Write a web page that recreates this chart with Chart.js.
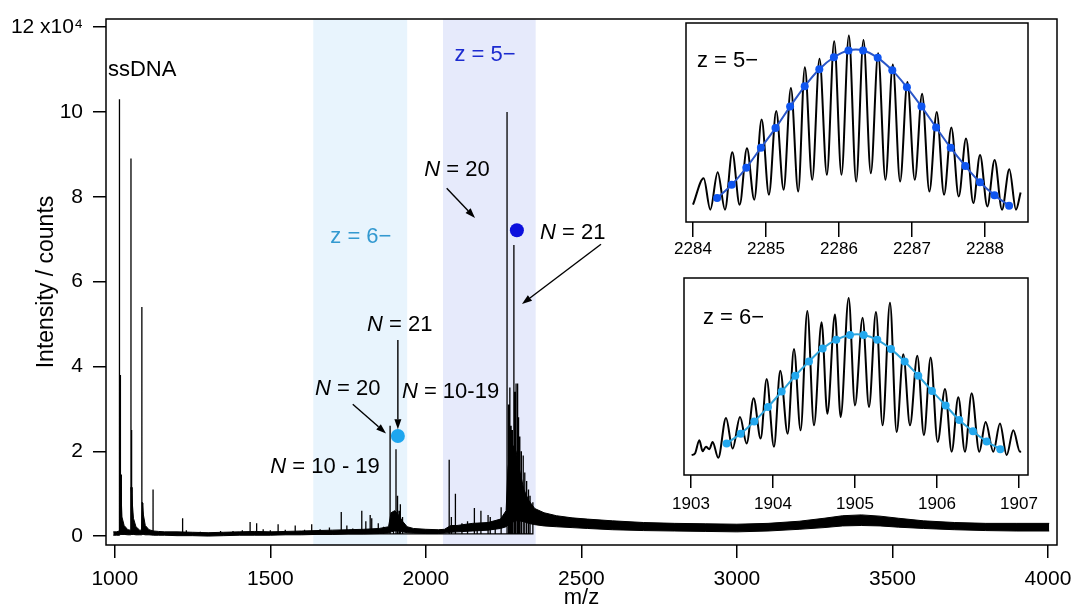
<!DOCTYPE html>
<html>
<head>
<meta charset="utf-8">
<script src="https://cdn.jsdelivr.net/npm/chart.js@4/dist/chart.umd.min.js"></script>
<style>
  body { margin: 0; background: #fff; }
  #wrap { position: relative; width: 1076px; height: 612px; }
  canvas { display: block; }
  #ins1 { position: absolute; left: 640px; top: 19px; }
  #ins2 { position: absolute; left: 640px; top: 272px; }
</style>
</head>
<body>
<div id="wrap">
  <canvas id="main" width="1076" height="612"></canvas>
  <canvas id="ins1" width="410" height="255"></canvas>
  <canvas id="ins2" width="410" height="255"></canvas>
</div>
<script>
// main spectrum: noisy baseline envelope (upper / lower edge of the black band)
const bandMz = [995, 1005, 1014, 1016, 1019, 1023, 1030, 1042, 1050, 1052,
  1055, 1060, 1068, 1080, 1086, 1088, 1092, 1098, 1110, 1125,
  1140, 1160, 1200, 1250, 1300, 1350, 1400, 1450, 1500, 1550,
  1600, 1650, 1700, 1750, 1800, 1850, 1880, 1888, 1900, 1912,
  1925, 1940, 1960, 2000, 2040, 2060, 2080, 2100, 2150, 2200,
  2240, 2258, 2264, 2275, 2290, 2300, 2315, 2330, 2350, 2380,
  2420, 2470, 2520, 2600, 2700, 2800, 2900, 3000, 3100, 3200,
  3280, 3340, 3400, 3460, 3520, 3600, 3700, 3800, 3900, 4004];
const bandHi = [0.1, 0.1, 0.12, 1.4, 1.2, 0.45, 0.25, 0.15, 0.14, 1.15,
  0.9, 0.42, 0.22, 0.14, 0.14, 0.8, 0.5, 0.25, 0.15, 0.12,
  0.11, 0.1, 0.1, 0.09, 0.08, 0.09, 0.1, 0.11, 0.1, 0.11,
  0.12, 0.13, 0.14, 0.15, 0.16, 0.18, 0.22, 0.55, 0.6, 0.5,
  0.35, 0.22, 0.18, 0.16, 0.15, 0.16, 0.25, 0.25, 0.3, 0.32,
  0.4, 0.6, 1.6, 2.2, 2.0, 1.6, 1.1, 0.85, 0.65, 0.55,
  0.48, 0.43, 0.4, 0.36, 0.32, 0.3, 0.29, 0.28, 0.3, 0.35,
  0.42, 0.48, 0.5, 0.47, 0.42, 0.36, 0.32, 0.3, 0.3, 0.3];
const bandLo = [0.02, 0.02, 0.02, 0.03, 0.04, 0.04, 0.04, 0.03, 0.03, 0.04,
  0.04, 0.04, 0.03, 0.03, 0.03, 0.04, 0.04, 0.03, 0.03, 0.02,
  0.02, 0.02, 0.01, 0.01, 0.0, 0.01, 0.02, 0.02, 0.02, 0.03,
  0.03, 0.04, 0.04, 0.05, 0.05, 0.06, 0.07, 0.1, 0.12, 0.12,
  0.1, 0.08, 0.07, 0.06, 0.06, 0.07, 0.09, 0.1, 0.12, 0.14,
  0.18, 0.22, 0.26, 0.32, 0.36, 0.36, 0.34, 0.3, 0.27, 0.24,
  0.22, 0.2, 0.18, 0.15, 0.13, 0.12, 0.11, 0.1, 0.12, 0.16,
  0.2, 0.24, 0.25, 0.24, 0.21, 0.18, 0.15, 0.13, 0.12, 0.12];

// main spectrum: individual peaks (m/z, intensity in 10^4 counts)
const peakMz = [1015, 1018, 1021, 1052, 1054, 1056, 1087, 1090, 1123, 1218,
  1230, 1275, 1340, 1380, 1410, 1435, 1456, 1477, 1500, 1525,
  1548, 1580, 1610, 1633, 1660, 1690, 1728, 1746, 1765, 1794,
  1807, 1821, 1826, 1847, 1864, 1885, 1896, 1904, 1909, 1914,
  1918, 1925, 2075, 2082, 2095, 2116, 2134, 2156, 2165, 2177,
  2200, 2207, 2223, 2242, 2261, 2266, 2270, 2274, 2278, 2283,
  2287, 2290, 2295, 2298, 2302, 2307, 2313, 2318, 2324, 2330,
  2335, 2344];
const peakInt = [10.3, 3.8, 1.45, 8.9, 2.5, 1.15, 5.4, 0.78, 1.1, 0.42,
  0.14, 0.1, 0.12, 0.12, 0.14, 0.33, 0.3, 0.16, 0.14, 0.28,
  0.15, 0.25, 0.15, 0.28, 0.16, 0.2, 0.57, 0.25, 0.18, 0.6,
  0.35, 0.5, 0.42, 0.3, 0.22, 2.6, 0.5, 2.05, 0.95, 0.6,
  0.75, 0.45, 1.8, 0.45, 1.0, 0.3, 0.35, 0.66, 0.3, 0.6,
  0.5, 0.45, 0.35, 0.68, 10.0, 3.1, 3.5, 2.6, 2.5, 6.86,
  3.4, 3.6, 3.6, 2.8, 2.35, 2.0, 1.9, 1.5, 1.3, 1.1,
  0.95, 0.8];

const mainXTicks = [1000, 1500, 2000, 2500, 3000, 3500, 4000];
const mainYTicks = [0, 2, 4, 6, 8, 10, 12];

// marked N = 20 / 21 positions
const dotZ6 = { mz: 1910, y: 2.36 };
const dotZ5 = { mz: 2292.6, y: 7.21 };

// shaded charge-state windows (m/z)
const windowZ6 = [1638, 1940];
const windowZ5 = [2055, 2353];

// inset z = 5-
const ins1Mz = [2284.000, 2284.146, 2284.237, 2284.338, 2284.438, 2284.538, 2284.639, 2284.739, 2284.839, 2284.940,
  2285.040, 2285.140, 2285.241, 2285.341, 2285.441, 2285.532, 2285.633, 2285.733, 2285.834, 2285.934,
  2286.034, 2286.135, 2286.235, 2286.335, 2286.436, 2286.536, 2286.636, 2286.737, 2286.837, 2286.937,
  2287.038, 2287.138, 2287.238, 2287.339, 2287.439, 2287.539, 2287.640, 2287.740, 2287.840, 2287.932,
  2288.032, 2288.132, 2288.233, 2288.333, 2288.424, 2288.488];
const ins1Val = [8.7, 22, 6.2, 25, 6.2, 35, 8.7, 37, 11.2, 51.5,
  13.7, 55.8, 16.2, 67.3, 15.3, 77.8, 21.2, 82, 23.7, 90.8,
  23.7, 93.7, 20.3, 91.5, 24.5, 84.8, 21.2, 79.2, 20.3, 70.3,
  21.2, 64.5, 15.3, 55.3, 13.7, 47.5, 12.8, 42, 9.5, 33.7,
  7.8, 31.2, 6.2, 26.5, 6.2, 14.8];
const ins1FitMz = [2284.33, 2284.53, 2284.73, 2284.93, 2285.13, 2285.33, 2285.53, 2285.73, 2285.93, 2286.13,
  2286.33, 2286.53, 2286.73, 2286.93, 2287.13, 2287.33, 2287.53, 2287.73, 2287.93, 2288.13, 2288.33];
const ins1FitVal = [12, 18.7, 27.3, 37.3, 47.2, 58, 68.2, 76.8, 82.8, 86.2,
  86.2, 82.5, 76.2, 67.7, 58, 47.5, 37.3, 28.2, 20, 13.5, 8.2];
const ins1Ticks = [2284, 2285, 2286, 2287, 2288];

// inset z = 6-
const ins2Mz = [1903.008, 1903.049, 1903.102, 1903.142, 1903.183, 1903.224, 1903.264, 1903.333, 1903.427, 1903.508,
  1903.598, 1903.679, 1903.764, 1903.850, 1903.923, 1904.012, 1904.089, 1904.179, 1904.256, 1904.337,
  1904.419, 1904.500, 1904.593, 1904.663, 1904.756, 1904.825, 1904.923, 1905.000, 1905.093, 1905.171,
  1905.256, 1905.337, 1905.427, 1905.508, 1905.589, 1905.671, 1905.760, 1905.841, 1905.923, 1906.008,
  1906.098, 1906.179, 1906.260, 1906.341, 1906.423, 1906.516, 1906.593, 1906.687, 1906.768, 1906.850,
  1906.931, 1907.012, 1907.024];
const ins2Val = [10.1, 10.9, 17.6, 12.1, 14.3, 13.1, 16.8, 8.7, 28.9, 13.4,
  29.4, 16, 39, 18.5, 48.7, 14.3, 52.9, 21, 63.9, 22.7,
  83.2, 25.2, 77.6, 31.1, 81.5, 29.4, 89.9, 35.3, 79.8, 34.5,
  82.7, 25.2, 87.4, 21.8, 61.3, 25.2, 60.5, 20.2, 59.7, 16.8,
  43.7, 11.8, 39.5, 11.8, 41.5, 11.8, 26.9, 11.8, 26.1, 10.1,
  22.7, 11.8, 12.1];
const ins2FitMz = [1903.435, 1903.606, 1903.772, 1903.939, 1904.106, 1904.272, 1904.439, 1904.606, 1904.772, 1904.939,
  1905.106, 1905.272, 1905.439, 1905.606, 1905.772, 1905.939, 1906.106, 1906.272, 1906.439, 1906.606, 1906.772];
const ins2FitVal = [16, 21, 27.2, 34.5, 42.4, 50.4, 57.6, 64.2, 68.7, 71.1,
  71.1, 68.6, 63.9, 57.6, 50.4, 42.7, 35.3, 27.9, 22.2, 17, 13.1];
const ins2Ticks = [1903, 1904, 1905, 1906, 1907];

const FONT = '"Liberation Sans", Arial, Helvetica, sans-serif';
Chart.defaults.font.family = FONT;
Chart.defaults.color = '#000';

function pontos(xs, ys) {
    return xs.map(function (x, i) { return { x: x, y: ys[i] }; });
}

// every peak becomes a vertical stick standing on the band
let sticks = [];
for (let i = 0; i < peakMz.length; i++) {
    sticks.push({ x: peakMz[i], y: 0.05 });
    sticks.push({ x: peakMz[i], y: peakInt[i] });
    sticks.push({ x: peakMz[i], y: 0.05 });
}

const framePlugin = {
    id: 'frame',
    afterDatasetsDraw(chart) {
        const a = chart.chartArea, ctx = chart.ctx;
        ctx.save();
        ctx.strokeStyle = '#000';
        ctx.lineWidth = 1.5;
        ctx.strokeRect(a.left, a.top, a.right - a.left, a.bottom - a.top);
        ctx.restore();
    }
};

const shadePlugin = {
    id: 'shade',
    beforeDatasetsDraw(chart) {
        const a = chart.chartArea, ctx = chart.ctx, x = chart.scales.x;
        ctx.save();
        ctx.fillStyle = '#e8f4fd';
        let l = x.getPixelForValue(windowZ6[0]), r = x.getPixelForValue(windowZ6[1]);
        ctx.fillRect(l, a.top, r - l, a.bottom - a.top);
        ctx.fillStyle = '#e6eafb';
        l = x.getPixelForValue(windowZ5[0]); r = x.getPixelForValue(windowZ5[1]);
        ctx.fillRect(l, a.top, r - l, a.bottom - a.top);
        ctx.restore();
    }
};

// annotation texts and arrows, placed in data coordinates
const nLabels = [
    { rest: ' = 20', mz: 2100, y: 8.63, align: 'center' },
    { rest: ' = 21', mz: 2472, y: 7.14, align: 'center' },
    { rest: ' = 21', mz: 1916, y: 4.97, align: 'center' },
    { rest: ' = 20', mz: 1749, y: 3.47, align: 'center' },
    { rest: ' = 10-19', mz: 1923, y: 3.39, align: 'left' },
    { rest: ' = 10 - 19', mz: 1852, y: 1.63, align: 'right' }
];
const arrows = [
    { from: [2067, 8.20], to: [2158, 7.50] },
    { from: [2563, 6.88], to: [2309, 5.47] },
    { from: [1910, 4.62], to: [1910, 2.52] },
    { from: [1765, 3.11], to: [1872, 2.42] }
];

function drawNLabel(ctx, x, y, rest, align) {
    ctx.font = 'italic 22px ' + FONT;
    const wN = ctx.measureText('N').width;
    ctx.font = '22px ' + FONT;
    const wR = ctx.measureText(rest).width;
    const total = wN + wR;
    let x0 = x - total / 2;
    if (align === 'left') x0 = x;
    if (align === 'right') x0 = x - total;
    ctx.textAlign = 'left';
    ctx.textBaseline = 'middle';
    ctx.font = 'italic 22px ' + FONT;
    ctx.fillText('N', x0, y);
    ctx.font = '22px ' + FONT;
    ctx.fillText(rest, x0 + wN, y);
}

function drawArrow(ctx, x1, y1, x2, y2) {
    const ang = Math.atan2(y2 - y1, x2 - x1);
    const len = 10, half = 3.5;
    const bx = x2 - len * Math.cos(ang), by = y2 - len * Math.sin(ang);
    ctx.beginPath();
    ctx.moveTo(x1, y1);
    ctx.lineTo(bx, by);
    ctx.stroke();
    ctx.beginPath();
    ctx.moveTo(x2, y2);
    ctx.lineTo(bx - half * Math.sin(ang), by + half * Math.cos(ang));
    ctx.lineTo(bx + half * Math.sin(ang), by - half * Math.cos(ang));
    ctx.closePath();
    ctx.fill();
}

const annotPlugin = {
    id: 'annot',
    afterDraw(chart) {
        const ctx = chart.ctx, x = chart.scales.x, y = chart.scales.y;
        ctx.save();
        ctx.fillStyle = '#000';
        ctx.strokeStyle = '#000';
        ctx.lineWidth = 1.4;
        ctx.font = '22px ' + FONT;
        ctx.textAlign = 'left';
        ctx.textBaseline = 'middle';
        ctx.fillText('ssDNA', x.getPixelForValue(978), y.getPixelForValue(10.99));

        ctx.textAlign = 'center';
        ctx.fillStyle = '#3399d0';
        ctx.fillText('z = 6\u2212', x.getPixelForValue(1791), y.getPixelForValue(7.05));
        ctx.fillStyle = '#1c2bd0';
        ctx.fillText('z = 5\u2212', x.getPixelForValue(2190), y.getPixelForValue(11.34));

        ctx.fillStyle = '#000';
        nLabels.forEach(function (l) {
            drawNLabel(ctx, x.getPixelForValue(l.mz), y.getPixelForValue(l.y), l.rest, l.align);
        });
        arrows.forEach(function (a) {
            drawArrow(ctx, x.getPixelForValue(a.from[0]), y.getPixelForValue(a.from[1]),
                x.getPixelForValue(a.to[0]), y.getPixelForValue(a.to[1]));
        });
        ctx.restore();
    }
};

new Chart(document.getElementById('main'), {
    type: 'line',
    data: {
        datasets: [{
            type: 'scatter',
            data: [{ x: dotZ6.mz, y: dotZ6.y }],
            pointRadius: 7,
            backgroundColor: '#1ea6ef',
            borderWidth: 0
        }, {
            type: 'scatter',
            data: [{ x: dotZ5.mz, y: dotZ5.y }],
            pointRadius: 7,
            backgroundColor: '#0c10dd',
            borderWidth: 0
        }, {
            data: sticks,
            borderColor: '#000',
            borderWidth: 1.3,
            pointRadius: 0,
            fill: false,
            tension: 0
        }, {
            data: pontos(bandMz, bandLo),
            borderColor: '#000',
            borderWidth: 1,
            pointRadius: 0,
            fill: false,
            tension: 0
        }, {
            data: pontos(bandMz, bandHi),
            borderColor: '#000',
            borderWidth: 1,
            pointRadius: 0,
            backgroundColor: '#000',
            fill: '-1',
            tension: 0
        }]
    },
    options: {
        responsive: false,
        animation: false,
        events: [],
        layout: { padding: { left: 0, right: 19, top: 19, bottom: 0 } },
        plugins: { legend: { display: false }, tooltip: { enabled: false } },
        scales: {
            x: {
                type: 'linear',
                min: 971.7,
                max: 4029,
                afterBuildTicks: function (s) { s.ticks = mainXTicks.map(function (v) { return { value: v }; }); },
                afterFit: function (s) { s.height = 67; s.paddingLeft = 0; s.paddingRight = 0; },
                ticks: {
                    font: { size: 21 }, padding: 9, maxRotation: 0, color: '#000',
                    callback: function (v) { return String(v); }
                },
                grid: { drawOnChartArea: false, tickLength: 13, color: '#000', lineWidth: 1.5 },
                border: { display: false },
                title: { display: true, text: 'm/z', font: { size: 22 }, padding: { top: 0, bottom: 1 } }
            },
            y: {
                min: -0.21,
                max: 12.19,
                afterBuildTicks: function (s) { s.ticks = mainYTicks.map(function (v) { return { value: v }; }); },
                afterFit: function (s) { s.width = 106; s.paddingTop = 0; s.paddingBottom = 0; },
                ticks: {
                    font: { size: 21 },
                    padding: 10,
                    color: '#000',
                    callback: function (v) { return v === 12 ? '12 x10\u2074' : String(v); }
                },
                grid: { drawOnChartArea: false, tickLength: 13, color: '#000', lineWidth: 1.5 },
                border: { display: false },
                title: { display: true, text: 'Intensity / counts', font: { size: 23 }, padding: { top: 33, bottom: 0 } }
            }
        }
    },
    plugins: [shadePlugin, framePlugin, annotPlugin]
});

function insetLabel(texto, dx, dy) {
    return {
        id: 'insetLabel',
        afterDraw(chart) {
            const ctx = chart.ctx, a = chart.chartArea;
            ctx.save();
            ctx.fillStyle = '#000';
            ctx.font = '22px ' + FONT;
            ctx.textAlign = 'left';
            ctx.textBaseline = 'middle';
            ctx.fillText(texto, a.left + dx, a.top + dy);
            ctx.restore();
        }
    };
}

function criarInset(id, xs, ys, fitXs, fitYs, ticks, min, max, cor, corPonto, pad, tickLen, labelPad, texto, tx, ty) {
    return new Chart(document.getElementById(id), {
        type: 'line',
        data: {
            datasets: [{
                data: pontos(fitXs, fitYs),
                borderColor: cor,
                borderWidth: 2,
                pointRadius: 4,
                pointBackgroundColor: corPonto,
                pointBorderWidth: 0,
                tension: 0.4,
                fill: false
            }, {
                data: pontos(xs, ys),
                borderColor: '#000',
                borderWidth: 2,
                pointRadius: 0,
                cubicInterpolationMode: 'monotone',
                fill: false
            }]
        },
        options: {
            responsive: false,
            animation: false,
            events: [],
            layout: { padding: pad },
            plugins: { legend: { display: false }, tooltip: { enabled: false } },
            scales: {
                x: {
                    type: 'linear',
                    min: min,
                    max: max,
                    afterBuildTicks: function (s) { s.ticks = ticks.map(function (v) { return { value: v }; }); },
                    afterFit: function (s) { s.height = 52; s.paddingLeft = 0; s.paddingRight = 0; },
                    ticks: {
                        font: { size: 17 }, padding: labelPad, maxRotation: 0, color: '#000',
                        callback: function (v) { return String(v); }
                    },
                    grid: { drawOnChartArea: false, tickLength: tickLen, color: '#000', lineWidth: 1.5 },
                    border: { display: false }
                },
                y: { display: false, min: 0, max: 100 }
            }
        },
        plugins: [framePlugin, insetLabel(texto, tx, ty)]
    });
}

criarInset('ins1', ins1Mz, ins1Val, ins1FitMz, ins1FitVal, ins1Ticks, 2283.904, 2288.589,
    '#2a56c8', '#0f55f0', { left: 46, right: 22, top: 3, bottom: 0 }, 15, 2, 'z = 5\u2212', 11, 38);
criarInset('ins2', ins2Mz, ins2Val, ins2FitMz, ins2FitVal, ins2Ticks, 1902.915, 1907.11,
    '#2ea5dc', '#23a8ee', { left: 44, right: 22, top: 6, bottom: 0 }, 13, 6, 'z = 6\u2212', 19, 40);
</script>
</body>
</html>
